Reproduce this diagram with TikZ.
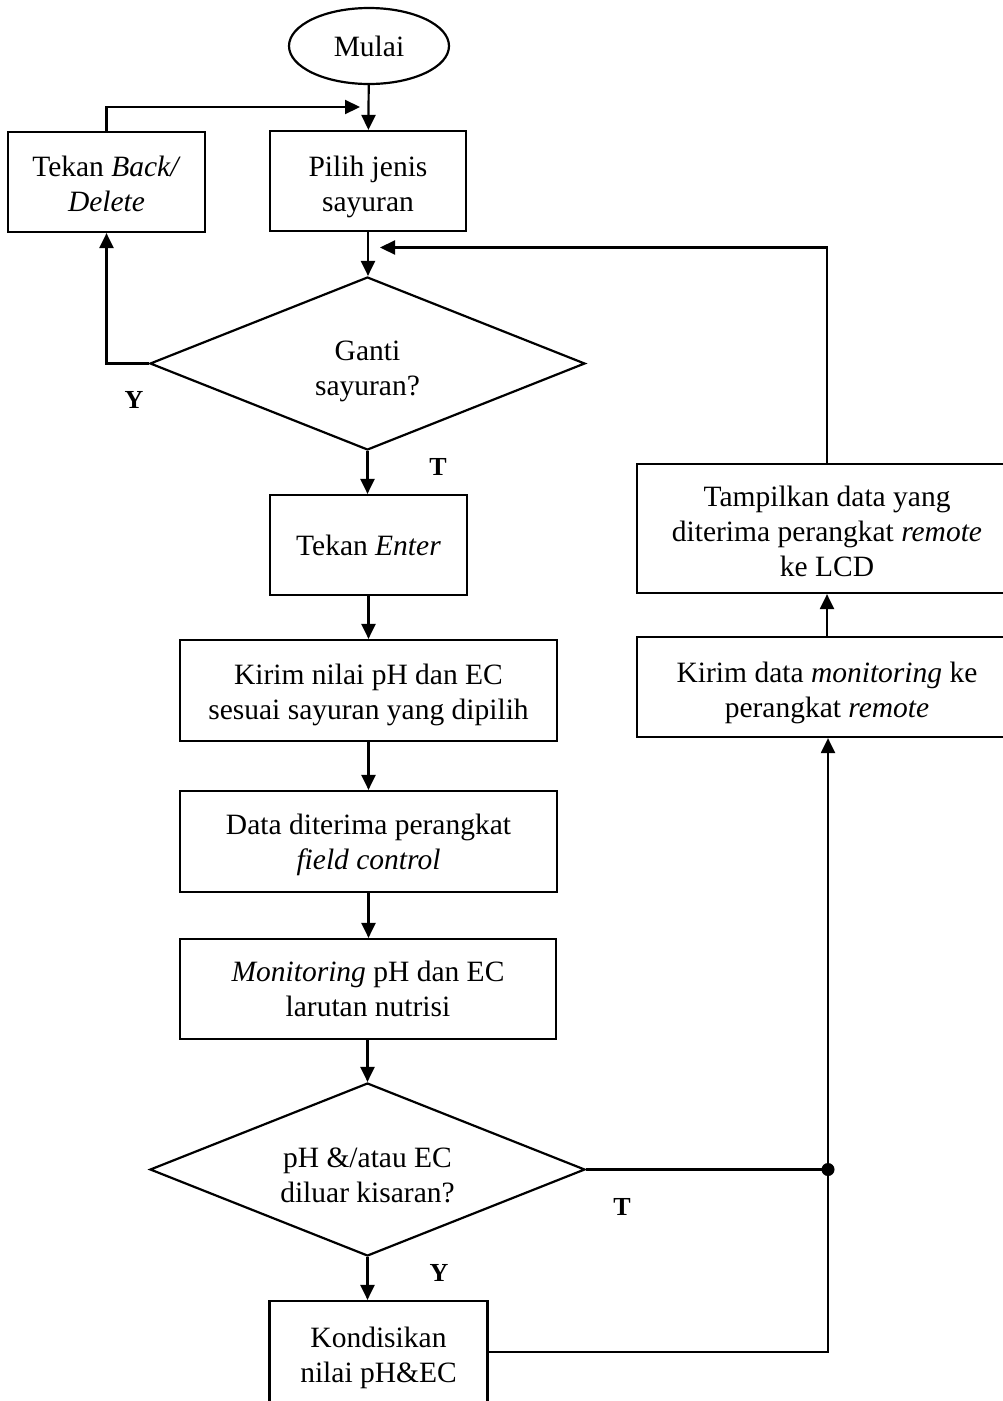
\documentclass[tikz,border=0pt]{standalone}
\usepackage{fontspec}
\setmainfont{Liberation Serif}
\usetikzlibrary{shapes.geometric,arrows.meta}
% invisible strut that sets how far the first text line sits below the box centre
\newcommand{\padtop}[1]{\rule{0pt}{#1}}
\begin{document}
\begin{tikzpicture}[x=1pt,y=-1pt,
  every node/.style={font=\fontsize{29.5}{35}\selectfont},
  box/.style={draw,line width=2.2pt,align=center,inner sep=0pt},
  decision/.style={draw,diamond,aspect=2.5,line width=2.2pt,align=center,inner sep=0pt,
                   minimum width=435pt,minimum height=173pt},
  terminal/.style={draw,ellipse,line width=2.2pt,inner sep=0pt,
                   minimum width=160pt,minimum height=76pt},
  flow/.style={line width=2.2pt,-{Triangle[length=15pt,width=14pt]}},
  plain/.style={line width=2.2pt},
  lbl/.style={font=\fontsize{26}{30}\selectfont\bfseries}]

\useasboundingbox (0,0) rectangle (1003,1401);
\clip (0,0) rectangle (1003,1401);

% main column
\node[terminal] (mulai) at (369,46) {Mulai};
\node[box,minimum width=196pt,minimum height=100pt] (pilih) at (368,181) {\padtop{32pt}Pilih jenis\\sayuran};
\node[box,minimum width=197pt,minimum height=100pt] (back) at (106.5,182) {\padtop{24.5pt}Tekan \textit{Back/}\\\textit{Delete}};
\node[decision] (ganti) at (367.5,363.5) {\padtop{35.5pt}Ganti\\sayuran?};
\node[box,minimum width=197pt,minimum height=100pt] (enter) at (368.5,545) {Tekan \textit{Enter}};
\node[box,minimum width=377pt,minimum height=101pt] (kirim) at (368.5,690.5) {\padtop{28.5pt}Kirim nilai pH dan EC\\sesuai sayuran yang dipilih};
\node[box,minimum width=377pt,minimum height=101pt] (data) at (368.5,841.5) {\padtop{26.5pt}Data diterima perangkat\\\textit{field control}};
\node[box,minimum width=376pt,minimum height=100pt] (monit) at (368,989) {\textit{Monitoring} pH dan EC\\larutan nutrisi};
\node[decision] (cek) at (367.5,1169.5) {\padtop{30.5pt}pH \&/atau EC\\diluar kisaran?};
\node[box,minimum width=218pt,minimum height=102pt] (kondisi) at (378.5,1352) {\padtop{32.5pt}Kondisikan\\nilai pH\&EC};

% right column
\node[box,minimum width=380pt,minimum height=100pt] (kirimdata) at (827,687) {\padtop{31.5pt}Kirim data \textit{monitoring} ke\\perangkat \textit{remote}};
\node[box,minimum width=380pt,minimum height=129pt] (tampil) at (827,528.5) {\padtop{25.5pt}Tampilkan data yang\\diterima perangkat \textit{remote}\\ke LCD};

% branch labels
\node[lbl] (y1) at (134,400) {Y};
\node[lbl] (t1) at (438,467) {T};
\node[lbl] (t2) at (622,1207) {T};
\node[lbl] (y2) at (439,1273) {Y};

% connectors
\coordinate (backin) at (360,107);
\coordinate (loopin) at (380,247.5);
\coordinate (jct) at (828,1169.5);

\draw[flow] (mulai) -- (pilih);
\draw[flow] (back.north) |- (backin);
\draw[flow] (pilih.south) -- (pilih.south |- ganti.north);
\draw[flow] (ganti.west) -| (back.south);
\draw[flow] (ganti.south) -- (ganti.south |- enter.north);
\draw[flow] (enter) -- (enter |- kirim.north);
\draw[flow] (kirim) -- (data);
\draw[flow] (data) -- (data |- monit.north);
\draw[flow] (monit.south) -- (monit.south -| cek.north) -- (cek.north);
\draw[flow] (cek.south) -- (cek.south |- kondisi.north);
\draw[plain] (cek.east) -- (jct);
\draw[plain] (kondisi.east) -| (jct);
\fill (jct) circle (6.5pt);
\draw[flow] (jct) -- (jct |- kirimdata.south);
\draw[flow] (kirimdata) -- (tampil);
\draw[flow] (tampil.north) |- (loopin);

\end{tikzpicture}
\end{document}
